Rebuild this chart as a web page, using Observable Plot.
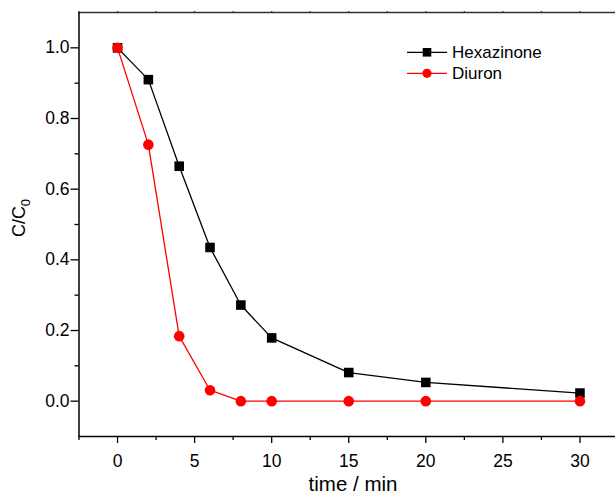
<!DOCTYPE html>
<html>
<head>
<meta charset="utf-8">
<script src="https://cdn.jsdelivr.net/npm/d3@7"></script>
<script src="https://cdn.jsdelivr.net/npm/@observablehq/plot@0.6"></script>
<style>
  html, body { margin: 0; padding: 0; background: #fff; }
  #chart svg { display: block; overflow: hidden; }
</style>
</head>
<body>
<div id="chart"></div>
<script>
// ---- data ----
const timeMin = [0, 2, 4, 6, 8, 10, 15, 20, 30];
const hexazinone = [1.0, 0.910, 0.665, 0.435, 0.272, 0.179, 0.081, 0.053, 0.023];
const diuron = [1.0, 0.726, 0.184, 0.031, 0, 0, 0, 0, 0];
const seriesNames = ["Hexazinone", "Diuron"];
const seriesColors = ["#000000", "#ff0000"];
const xTicks = [0, 5, 10, 15, 20, 25, 30];
const xMinorTicks = [-2.5, 2.5, 7.5, 12.5, 17.5, 22.5, 27.5, 32.5];
const yTicks = [0.0, 0.2, 0.4, 0.6, 0.8, 1.0];
const yMinorTicks = [0.1, 0.3, 0.5, 0.7, 0.9];
const xLabel = "time / min";
const yLabelMain = "C/C";
const yLabelSub = "0";

const hexData = timeMin.map((t, i) => ({t, v: hexazinone[i]}));
const diuData = timeMin.map((t, i) => ({t, v: diuron[i]}));

const W = 615, H = 496;
const font = "'Liberation Sans', Arial, sans-serif";

const chart = Plot.plot({
  width: W,
  height: H,
  marginLeft: 78.5,
  marginRight: 0,
  marginTop: 12,
  marginBottom: 60,
  x: {domain: [-2.5, 32.5], range: [78.5, 618]},
  y: {domain: [-0.1, 1.1]},
  style: {fontFamily: font, fontSize: "17.5px", color: "#000", background: "#fff", overflow: "hidden"},
  marks: [
    Plot.axisX({ticks: xTicks, tickSize: 7, tickPadding: 11, tickFormat: d3.format("d"), label: null, strokeWidth: 1.3}),
    Plot.axisX({ticks: xMinorTicks, tickSize: 4, tickFormat: () => "", label: null, strokeWidth: 1.3}),
    Plot.axisX({anchor: "top", ticks: xTicks.concat(xMinorTicks), tickSize: 2, tickFormat: () => "", label: null, strokeWidth: 1.2, stroke: "#333"}),
    Plot.axisY({ticks: yTicks, tickSize: 8, tickPadding: 1.5, tickFormat: d3.format(".1f"), label: null, strokeWidth: 1.3}),
    Plot.axisY({ticks: yMinorTicks, tickSize: 4, tickFormat: () => "", label: null, strokeWidth: 1.3}),
    Plot.ruleY([1.1], {stroke: "#333", strokeWidth: 1.5}),
    Plot.ruleX([-2.5], {stroke: "#000", strokeWidth: 1.5}),
    Plot.ruleY([-0.1], {stroke: "#000", strokeWidth: 1.5}),
    Plot.line(hexData, {x: "t", y: "v", stroke: seriesColors[0], strokeWidth: 1.3}),
    Plot.dot(hexData, {x: "t", y: "v", symbol: "square", r: 5.4, fill: seriesColors[0], stroke: "none"}),
    Plot.line(diuData, {x: "t", y: "v", stroke: seriesColors[1], strokeWidth: 1.3}),
    Plot.dot(diuData, {x: "t", y: "v", symbol: "circle", r: 5.3, fill: seriesColors[1], stroke: "none"})
  ]
});

document.getElementById("chart").appendChild(chart);

// ---- axis titles and legend (layout only) ----
const svg = d3.select(chart);

svg.append("text")
  .attr("x", 353).attr("y", 491)
  .attr("text-anchor", "middle")
  .attr("font-family", font).attr("font-size", 20.5).attr("fill", "#000")
  .text(xLabel);

const yl = svg.append("text")
  .attr("transform", "translate(25,218) rotate(-90)")
  .attr("text-anchor", "middle")
  .attr("font-family", font).attr("font-size", 18).attr("fill", "#000");
yl.append("tspan").text(yLabelMain);
yl.append("tspan").attr("font-size", 13).attr("dy", 5).text(yLabelSub);

const legend = svg.append("g");
seriesNames.forEach((name, i) => {
  const y = 52.3 + i * 21;
  legend.append("line").attr("x1", 407).attr("x2", 447).attr("y1", y).attr("y2", y)
    .attr("stroke", seriesColors[i]).attr("stroke-width", 1.3);
  if (i === 0) {
    legend.append("rect").attr("x", 427 - 4.3).attr("y", y - 4.3).attr("width", 8.6).attr("height", 8.6)
      .attr("fill", seriesColors[i]);
  } else {
    legend.append("circle").attr("cx", 427).attr("cy", y).attr("r", 4.6).attr("fill", seriesColors[i]);
  }
  legend.append("text").attr("x", 452).attr("y", y).attr("dy", "0.36em")
    .attr("text-anchor", "start")
    .attr("font-family", font).attr("font-size", 17).attr("fill", "#000")
    .text(name);
});
</script>
</body>
</html>
